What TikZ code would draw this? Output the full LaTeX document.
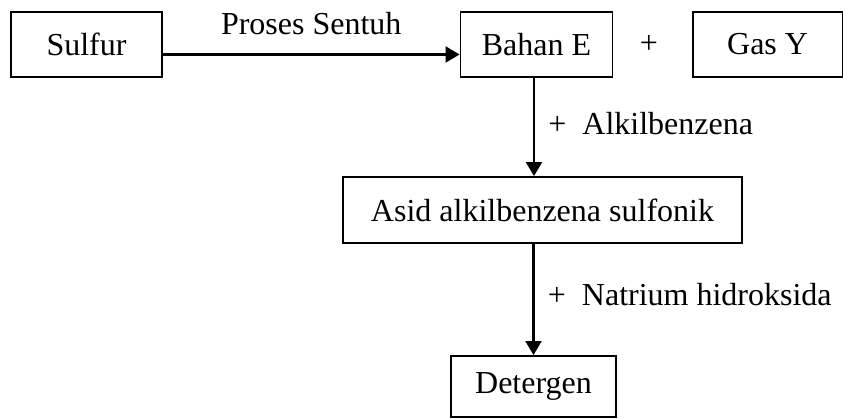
\documentclass[tikz,border=0pt]{standalone}
\usepackage{fontspec}
\setmainfont{Liberation Serif}
\usetikzlibrary{arrows.meta, positioning}
\tikzset{
    box/.style={rectangle, draw=black, line width=1.9pt, minimum height=65pt,
                inner sep=0pt, font=\fontsize{32}{38}\selectfont},
    lbl/.style={font=\fontsize{32}{38}\selectfont},
    arrow/.style={line width=2.1pt,-{Triangle[length=14pt,width=16pt]}}
}
\begin{document}
\begin{tikzpicture}[x=1pt, y=-1pt]
    \useasboundingbox (0,0) rectangle (843,418);

    % Top row
    \node[box, minimum width=151pt] (sulfur) at (86.5,44.5) {Sulfur};
    \node[box, minimum width=152pt] (bahanE) at (536.5,44.5) {Bahan E};
    \node[lbl] (plus) at (649,44.5) {+};
    \node[box, minimum width=150pt] (gasY) at (767.6,44.5) {Gas Y};

    % Products
    \node[box, minimum width=399pt, minimum height=66pt] (asid) at (542.5,210) {Asid alkilbenzena sulfonik};
    \node[box, minimum width=165pt, minimum height=61pt] (detergen) at (533.5,386.5) {Detergen};

    % Arrows
    \draw[arrow] ([yshift=-10pt]sulfur.east) -- ([yshift=-10pt]bahanE.west)
        node[lbl, midway, above=15pt] {Proses Sentuh};
    \draw[arrow] ([xshift=-2.5pt]bahanE.south) -- ([xshift=-2.5pt]bahanE.south |- asid.north)
        node[lbl, midway, right=10pt, yshift=3pt] {+~~Alkilbenzena};
    \draw[arrow] (detergen.north |- asid.south) -- (detergen.north)
        node[lbl, midway, right=10pt, yshift=5pt] {+~~Natrium hidroksida};
\end{tikzpicture}
\end{document}
